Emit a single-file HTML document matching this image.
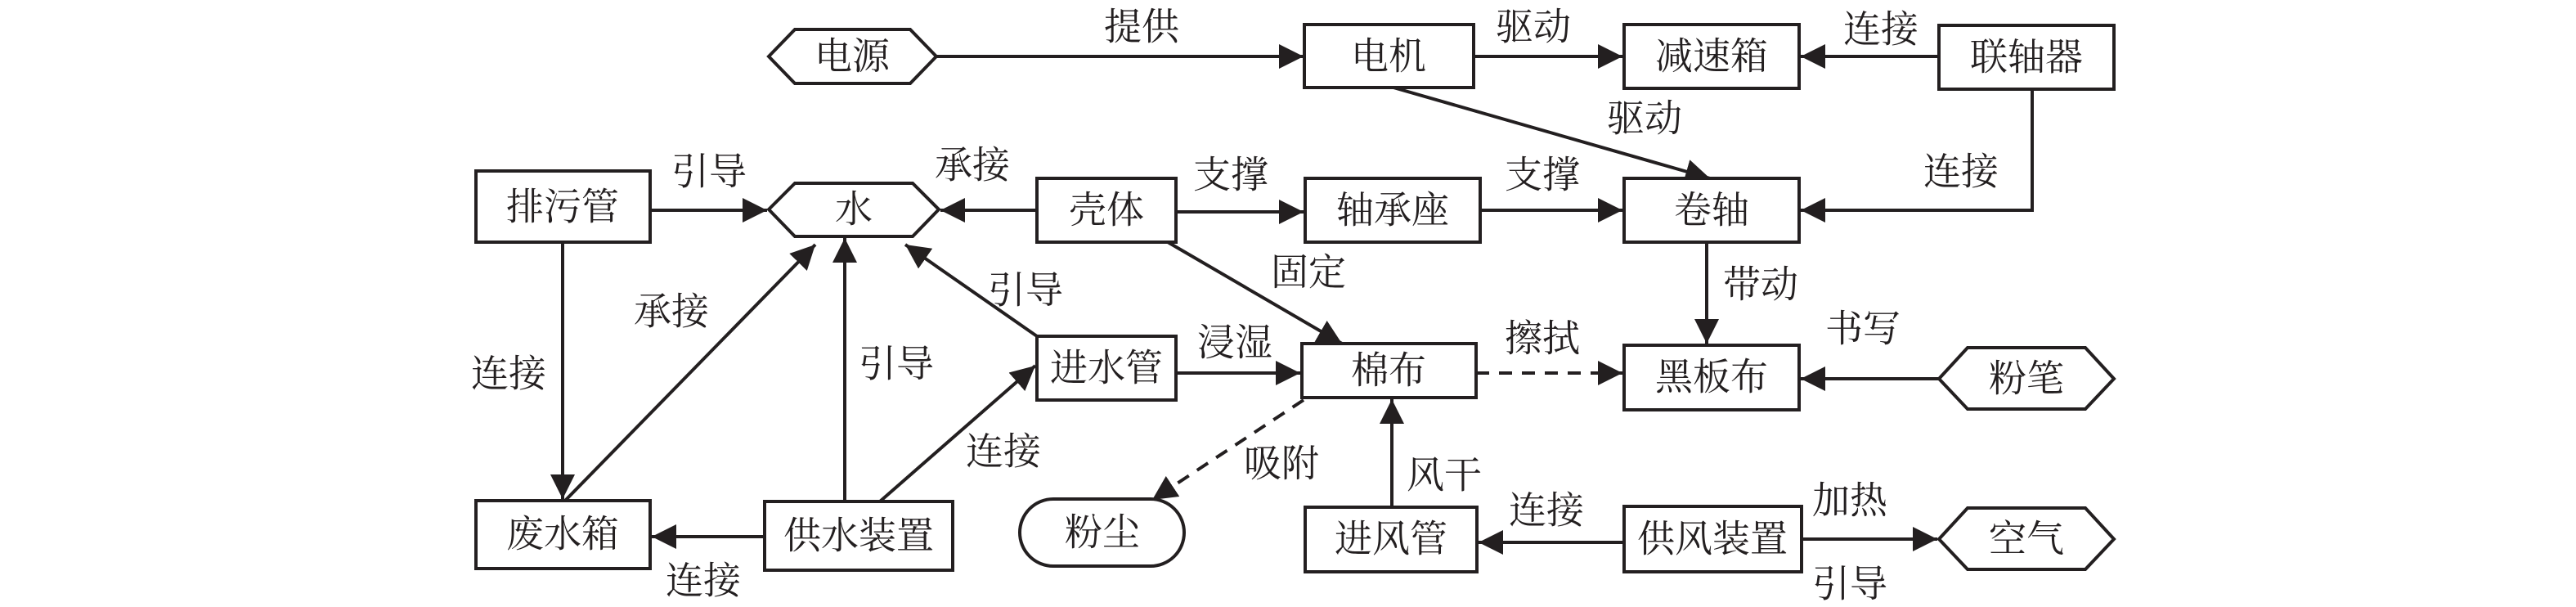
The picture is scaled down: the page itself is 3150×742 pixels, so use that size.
<!DOCTYPE html>
<html><head><meta charset="utf-8"><style>
html,body{margin:0;padding:0;background:#fff}
svg{display:block}
text{font-family:"Liberation Serif","Noto Serif CJK SC",serif;font-size:46px;fill:#231f20;text-anchor:middle;dominant-baseline:central}
.b{fill:#fff;stroke:#231f20;stroke-width:4}
.l{stroke:#231f20;stroke-width:4;fill:none}
.d{stroke-dasharray:16 12}
</style></head><body>
<svg width="3150" height="742" viewBox="0 0 3150 742" xmlns="http://www.w3.org/2000/svg">
<defs><marker id="a" markerUnits="userSpaceOnUse" markerWidth="32" markerHeight="30" refX="30" refY="15" orient="auto"><path d="M0,0 L30,15 L0,30 Z" fill="#231f20"/></marker></defs>
<g class="l" marker-end="url(#a)">
<line x1="1145" y1="69" x2="1594" y2="69"/>
<line x1="1802" y1="69" x2="1984" y2="69"/>
<line x1="2371" y1="69" x2="2202" y2="69"/>
<line x1="1704" y1="107" x2="2091" y2="218"/>
<polyline points="2485,109 2485,257 2202,257"/>
<line x1="1268" y1="257" x2="1150" y2="257"/>
<line x1="1438" y1="259" x2="1594" y2="259"/>
<line x1="1810" y1="257" x2="1984" y2="257"/>
<line x1="1428" y1="296" x2="1641" y2="420"/>
<line x1="2087" y1="296" x2="2087" y2="420"/>
<line x1="1268" y1="411" x2="1107" y2="299"/>
<line x1="1438" y1="456" x2="1590" y2="456"/>
<line class="l d" x1="1805" y1="456" x2="1984" y2="456"/>
<line x1="2371" y1="463" x2="2202" y2="463"/>
<line class="l d" x1="1594" y1="489" x2="1409" y2="611"/>
<line x1="1702" y1="620" x2="1702" y2="488"/>
<line x1="1986" y1="663" x2="1808" y2="663"/>
<line x1="2203" y1="659" x2="2369" y2="659"/>
<line x1="1033" y1="613" x2="1033" y2="291"/>
<line x1="1076" y1="613" x2="1266" y2="447"/>
<line x1="935" y1="656" x2="797" y2="656"/>
<line x1="795" y1="257" x2="938" y2="257"/>
<line x1="688" y1="296" x2="688" y2="610"/>
<line x1="691" y1="612" x2="997" y2="299"/>
</g>
<!-- hexagons -->
<polygon class="b" points="940,69 972,36 1113,36 1145,69 1113,102 972,102"/>
<polygon class="b" points="940,256 972,224 1116,224 1148,256 1116,289 972,289"/>
<polygon class="b" points="2371,463 2406,425 2550,425 2585,463 2550,500 2406,500"/>
<polygon class="b" points="2371,659 2406,621 2550,621 2585,659 2550,696 2406,696"/>
<rect class="b" x="1247" y="610" width="201" height="82" rx="41"/>
<g class="b">
<rect x="1595" y="30" width="207" height="77"/>
<rect x="1986" y="30" width="214" height="78"/>
<rect x="2371" y="31" width="214" height="78"/>
<rect x="582" y="209" width="213" height="87"/>
<rect x="1268" y="218" width="170" height="78"/>
<rect x="1596" y="218" width="214" height="78"/>
<rect x="1986" y="218" width="214" height="78"/>
<rect x="1268" y="411" width="170" height="78"/>
<rect x="1592" y="420" width="213" height="66"/>
<rect x="1986" y="422" width="214" height="79"/>
<rect x="582" y="612" width="213" height="83"/>
<rect x="935" y="613" width="230" height="84"/>
<rect x="1596" y="620" width="210" height="79"/>
<rect x="1986" y="619" width="217" height="80"/>
</g>
<text x="1042" y="69">电源</text>
<text x="1698" y="69">电机</text>
<text x="2093" y="69">减速箱</text>
<text x="2478" y="70">联轴器</text>
<text x="688" y="253">排污管</text>
<text x="1044" y="256">水</text>
<text x="1353" y="257">壳体</text>
<text x="1703" y="257">轴承座</text>
<text x="2093" y="257">卷轴</text>
<text x="1353" y="450">进水管</text>
<text x="1698" y="453">棉布</text>
<text x="2093" y="461">黑板布</text>
<text x="2478" y="463">粉笔</text>
<text x="688" y="653">废水箱</text>
<text x="1050" y="655">供水装置</text>
<text x="1348" y="651">粉尘</text>
<text x="1701" y="659">进风管</text>
<text x="2094" y="659">供风装置</text>
<text x="2478" y="659">空气</text>
<!-- labels -->
<text x="1396" y="33">提供</text>
<text x="1875" y="33">驱动</text>
<text x="2300" y="36">连接</text>
<text x="2011" y="145">驱动</text>
<text x="2398" y="210">连接</text>
<text x="867" y="210">引导</text>
<text x="1189" y="202">承接</text>
<text x="1505" y="214">支撑</text>
<text x="1886" y="214">支撑</text>
<text x="1600" y="333">固定</text>
<text x="2153" y="348">带动</text>
<text x="1254" y="355">引导</text>
<text x="821" y="381">承接</text>
<text x="1510" y="419">浸湿</text>
<text x="1886" y="414">擦拭</text>
<text x="2278" y="402">书写</text>
<text x="1096" y="445">引导</text>
<text x="622" y="457">连接</text>
<text x="1227" y="552">连接</text>
<text x="1567" y="567">吸附</text>
<text x="1766" y="581">风干</text>
<text x="1891" y="624">连接</text>
<text x="2262" y="612">加热</text>
<text x="2262" y="714">引导</text>
<text x="860" y="710">连接</text>
</svg>
</body></html>
